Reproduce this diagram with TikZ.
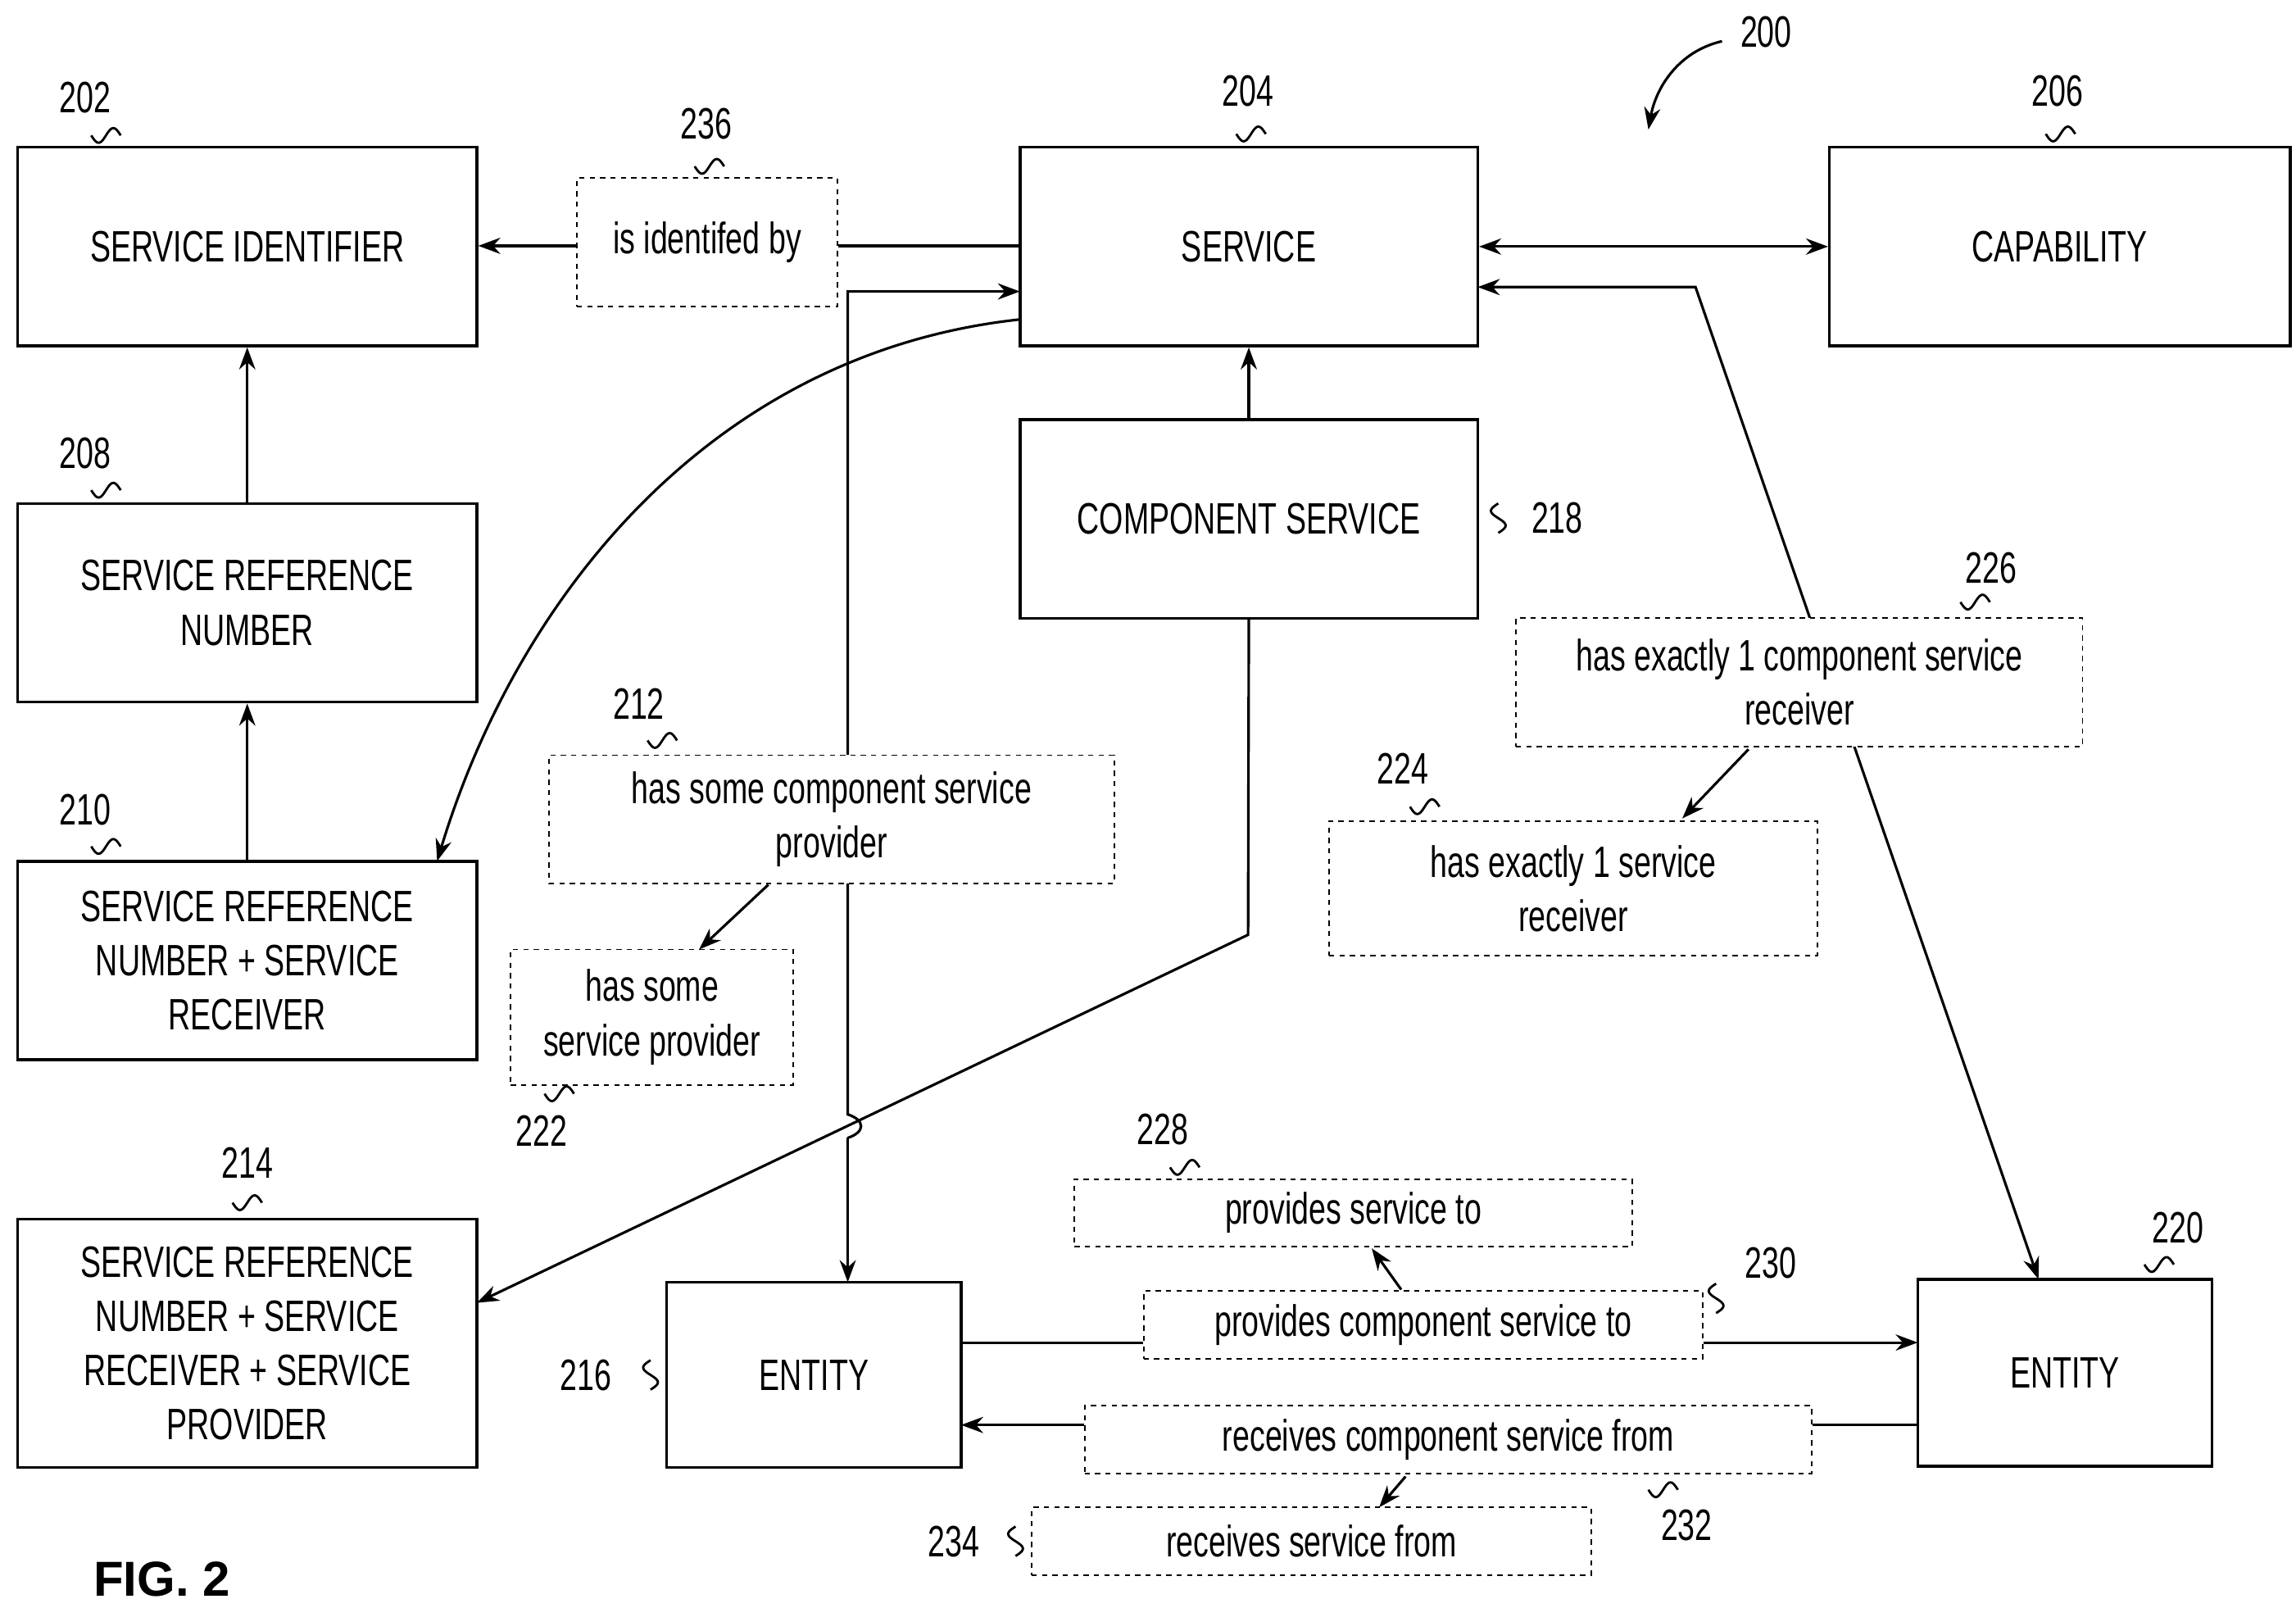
\documentclass[tikz,border=0pt]{standalone}
\usepackage{fontspec}
\setmainfont{Liberation Sans}[FakeStretch=0.70]
\newfontfamily\figfont{Liberation Sans}
\usetikzlibrary{arrows.meta,calc}
\pgfdeclarelayer{bg}
\pgfsetlayers{bg,main}
\begin{document}
\begin{tikzpicture}[x=0.02cm,y=-0.02cm,
  every node/.style={font=\fontsize{17}{21}\selectfont},
  box/.style={draw,line width=1.1pt,inner sep=0pt,align=center},
  dbox/.style={draw,fill=white,dashed,dash pattern=on 2pt off 2pt,line width=0.6pt,inner sep=0pt,align=center},
  ln/.style={line width=1pt},
  arr/.style={ln,-{Stealth[length=0.3cm,width=0.22cm]}},
  darr/.style={ln,{Stealth[length=0.3cm,width=0.22cm]}-{Stealth[length=0.3cm,width=0.22cm]}},
  lab/.style={font=\fontsize{17}{21}\selectfont},
  sq/.pic={\draw[line width=0.9pt] plot[domain=-10:10,smooth,samples=21] (\x,{-5*sin(\x*18)});}]
\useasboundingbox (0,0) rectangle (1560,1092);
% boxes
\node[box,minimum width=6.24cm,minimum height=2.7cm] (b202) at (168,167.5) {SERVICE IDENTIFIER};
\node[box,minimum width=6.22cm,minimum height=2.7cm] (b204) at (848.5,167.5) {SERVICE};
\node[box,minimum width=6.26cm,minimum height=2.7cm] (b206) at (1399.5,167.5) {CAPABILITY};
\node[box,minimum width=6.24cm,minimum height=2.7cm] (b208) at (168,409.5) {SERVICE REFERENCE\\NUMBER};
\node[box,minimum width=6.24cm,minimum height=2.7cm] (b210) at (168,652.5) {SERVICE REFERENCE\\NUMBER + SERVICE\\RECEIVER};
\node[box,minimum width=6.22cm,minimum height=2.7cm] (b218) at (848.5,352.5) {COMPONENT SERVICE};
\node[box,minimum width=6.24cm,minimum height=3.38cm] (b214) at (168,912.5) {SERVICE REFERENCE\\NUMBER + SERVICE\\RECEIVER + SERVICE\\PROVIDER};
\node[box,minimum width=4.0cm,minimum height=2.52cm] (b216) at (553,934) {ENTITY};
\node[box,minimum width=4.0cm,minimum height=2.54cm] (b220) at (1403,932.5) {ENTITY};
% dashed
\node[dbox,minimum width=3.54cm,minimum height=1.74cm] (d236) at (480.5,164.5) {is identifed by};
\node[dbox,minimum width=7.68cm,minimum height=1.74cm] (d212) at (565,556.5) {has some component service\\provider};
\node[dbox,minimum width=3.84cm,minimum height=1.84cm] (d222) at (443,691) {has some\\service provider};
\node[dbox,minimum width=7.7cm,minimum height=1.74cm] (d226) at (1222.5,463.5) {has exactly 1 component service\\receiver};
\node[dbox,minimum width=6.64cm,minimum height=1.82cm] (d224) at (1069,603.5) {has exactly 1 service\\receiver};
\node[dbox,minimum width=7.58cm,minimum height=0.92cm] (d228) at (919.5,824) {provides service to};
\node[dbox,minimum width=7.6cm,minimum height=0.92cm] (d230) at (967,900) {provides component service to};
\node[dbox,minimum width=9.88cm,minimum height=0.92cm] (d232) at (984,978) {receives component service from};
\node[dbox,minimum width=7.6cm,minimum height=0.92cm] (d234) at (891,1047) {receives service from};
% coordinates
\coordinate (p1) at (693,167);
\coordinate (p2) at (693,198);
\coordinate (p3) at (576,198);
\coordinate (p4) at (576,871);
\coordinate (j1) at (576,757);
\coordinate (j2) at (576,773);
\coordinate (c1) at (693,217);
\coordinate (c2) at (297,585);
\coordinate (k1) at (848,635);
\coordinate (k2) at (324,885);
\coordinate (r1) at (1004,195);
\coordinate (r2) at (1152,195);
\coordinate (r3) at (1385,869);
\coordinate (e1) at (653,912);
\coordinate (e2) at (1303,912);
\coordinate (f1) at (1303,968);
\coordinate (f2) at (653,968);
\coordinate (a1) at (1188,509); \coordinate (a2) at (1143,556);
\coordinate (a3) at (522,601); \coordinate (a4) at (475,645);
\coordinate (a5) at (952,876); \coordinate (a6) at (932,848);
\coordinate (a7) at (955,1003); \coordinate (a8) at (937,1024);
% connectors
\begin{pgfonlayer}{bg}
\draw[ln] (p1) -- (d236.east |- p1);
\draw[arr] (d236.west |- p1) -- (b202.east |- p1);
\draw[arr] (b208.north) -- (b202.south);
\draw[arr] (b210.north) -- (b208.south);
\draw[arr] (b218.north) -- (b204.south);
\draw[darr] (b204.east) -- (b206.west);
\draw[ln,{Stealth[length=0.3cm,width=0.22cm]}-] (p2) -- (p3) -- (j1) .. controls (588,761) and (588,769) .. (j2);
\draw[arr] (j2) -- (p4);
\draw[arr] (c1) .. controls (480,240) and (350,410) .. (c2);
\draw[arr] (b218.south) -- (k1) -- (k2);
\draw[darr] (r1) -- (r2) -- (r3);
\draw[arr] (a1) -- (a2);
\draw[arr] (a3) -- (a4);
\draw[ln] (e1) -- (d230.west |- e1);
\draw[arr] (d230.east |- e1) -- (e2);
\draw[ln] (f1) -- (d232.east |- f1);
\draw[arr] (d232.west |- f1) -- (f2);
\draw[arr] (a5) -- (a6);
\draw[arr] (a7) -- (a8);
\end{pgfonlayer}
% reference labels
\node[lab] (l200) at (1200,22) {200};
\coordinate (t1) at (1170,28); \coordinate (t2) at (1120,88);
\draw[arr] (t1) .. controls (1140,35) and (1125,60) .. (t2);
\node[lab] (l202) at (58,66) {202}; \pic at (72,92) {sq};
\node[lab] (l236) at (480,84) {236}; \pic at (482,113) {sq};
\node[lab] (l204) at (848,62) {204}; \pic at (850,91) {sq};
\node[lab] (l206) at (1398,62) {206}; \pic at (1400,91) {sq};
\node[lab] (l208) at (58,308) {208}; \pic at (72,333) {sq};
\node[lab] (l210) at (58,550) {210}; \pic at (72,575) {sq};
\node[lab] (l212) at (434,478) {212}; \pic at (450,503) {sq};
\node[lab] (l218) at (1058,352) {218}; \pic[rotate=90] at (1018,352) {sq};
\node[lab] (l226) at (1353,386) {226}; \pic at (1342,409) {sq};
\node[lab] (l224) at (953,522) {224}; \pic at (968,548) {sq};
\node[lab] (l222) at (368,768) {222}; \pic at (380,743) {sq};
\node[lab] (l214) at (168,790) {214}; \pic at (168,817) {sq};
\node[lab] (l228) at (790,767) {228}; \pic at (805,793) {sq};
\node[lab] (l230) at (1203,858) {230}; \pic[rotate=90] at (1166,882) {sq};
\node[lab] (l220) at (1480,834) {220}; \pic at (1467,859) {sq};
\node[lab] (l216) at (398,934) {216}; \pic[rotate=90] at (442,934) {sq};
\node[lab] (l232) at (1146,1036) {232}; \pic at (1130,1012) {sq};
\node[lab] (l234) at (648,1047) {234}; \pic[rotate=90] at (690,1047) {sq};
\node[font=\figfont\bfseries\fontsize{19}{22}\selectfont] (fig) at (110,1073) {FIG. 2};
\end{tikzpicture}
\end{document}
